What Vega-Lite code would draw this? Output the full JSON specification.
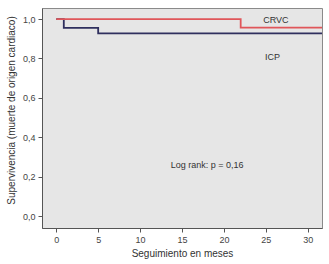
{
  "$schema": "https://vega.github.io/schema/vega-lite/v6.json",
  "width": 280,
  "height": 220,
  "autosize": "none",
  "padding": {"left": 42, "top": 8, "right": 7, "bottom": 36},
  "background": "white",
  "config": {
    "view": {"fill": "#e6e6e6", "stroke": "#8a8a8a", "strokeWidth": 1},
    "font": "Liberation Sans",
    "axis": {"grid": false, "domain": true, "domainColor": "#555555", "tickColor": "#555555", "labelColor": "#444444", "titleColor": "#333333", "labelFontSize": 9, "titleFontSize": 10, "titleFontWeight": "normal", "tickSize": 4}
  },
  "datasets": {
    "curves": [
      {"grupo": "CRVC", "meses": 0, "surv": 1.0},
      {"grupo": "CRVC", "meses": 22, "surv": 0.956},
      {"grupo": "CRVC", "meses": 31.7, "surv": 0.956},
      {"grupo": "ICP", "meses": 0, "surv": 1.0},
      {"grupo": "ICP", "meses": 0.9, "surv": 0.955},
      {"grupo": "ICP", "meses": 5, "surv": 0.927},
      {"grupo": "ICP", "meses": 31.7, "surv": 0.927}
    ],
    "labels": [
      {"texto": "CRVC", "meses": 26.2, "surv": 0.995},
      {"texto": "ICP", "meses": 25.8, "surv": 0.808},
      {"texto": "Log rank: p = 0,16", "meses": 18.0, "surv": 0.26}
    ]
  },
  "layer": [
    {
      "data": {"name": "curves"},
      "transform": [{"filter": "datum.grupo === 'ICP'"}],
      "mark": {"type": "line", "interpolate": "step-after", "strokeWidth": 1.8, "clip": true, "color": "#2f2f5e"},
      "encoding": {
        "x": {"field": "meses", "type": "quantitative", "scale": {"domain": [-1.7, 31.7], "nice": false, "zero": false},
          "axis": {"values": [0, 5, 10, 15, 20, 25, 30], "title": "Seguimiento en meses", "titlePadding": 4, "labelPadding": 3}},
        "y": {"field": "surv", "type": "quantitative", "scale": {"domain": [-0.06, 1.056], "nice": false, "zero": false},
          "axis": {"values": [0, 0.2, 0.4, 0.6, 0.8, 1.0], "labelExpr": "replace(format(datum.value, '.1f'), '.', ',')", "title": "Supervivencia (muerte de origen cardiaco)", "titlePadding": 6, "labelPadding": 3, "titleY": 102}},
        "order": {"field": "meses"}
      }
    },
    {
      "data": {"name": "curves"},
      "transform": [{"filter": "datum.grupo === 'CRVC'"}],
      "mark": {"type": "line", "interpolate": "step-after", "strokeWidth": 1.8, "clip": true, "color": "#e0565a"},
      "encoding": {
        "x": {"field": "meses", "type": "quantitative"},
        "y": {"field": "surv", "type": "quantitative"},
        "order": {"field": "meses"}
      }
    },
    {
      "data": {"name": "labels"},
      "mark": {"type": "text", "fontSize": 9, "color": "#333333", "align": "center", "baseline": "middle"},
      "encoding": {
        "x": {"field": "meses", "type": "quantitative"},
        "y": {"field": "surv", "type": "quantitative"},
        "text": {"field": "texto"}
      }
    }
  ]
}
